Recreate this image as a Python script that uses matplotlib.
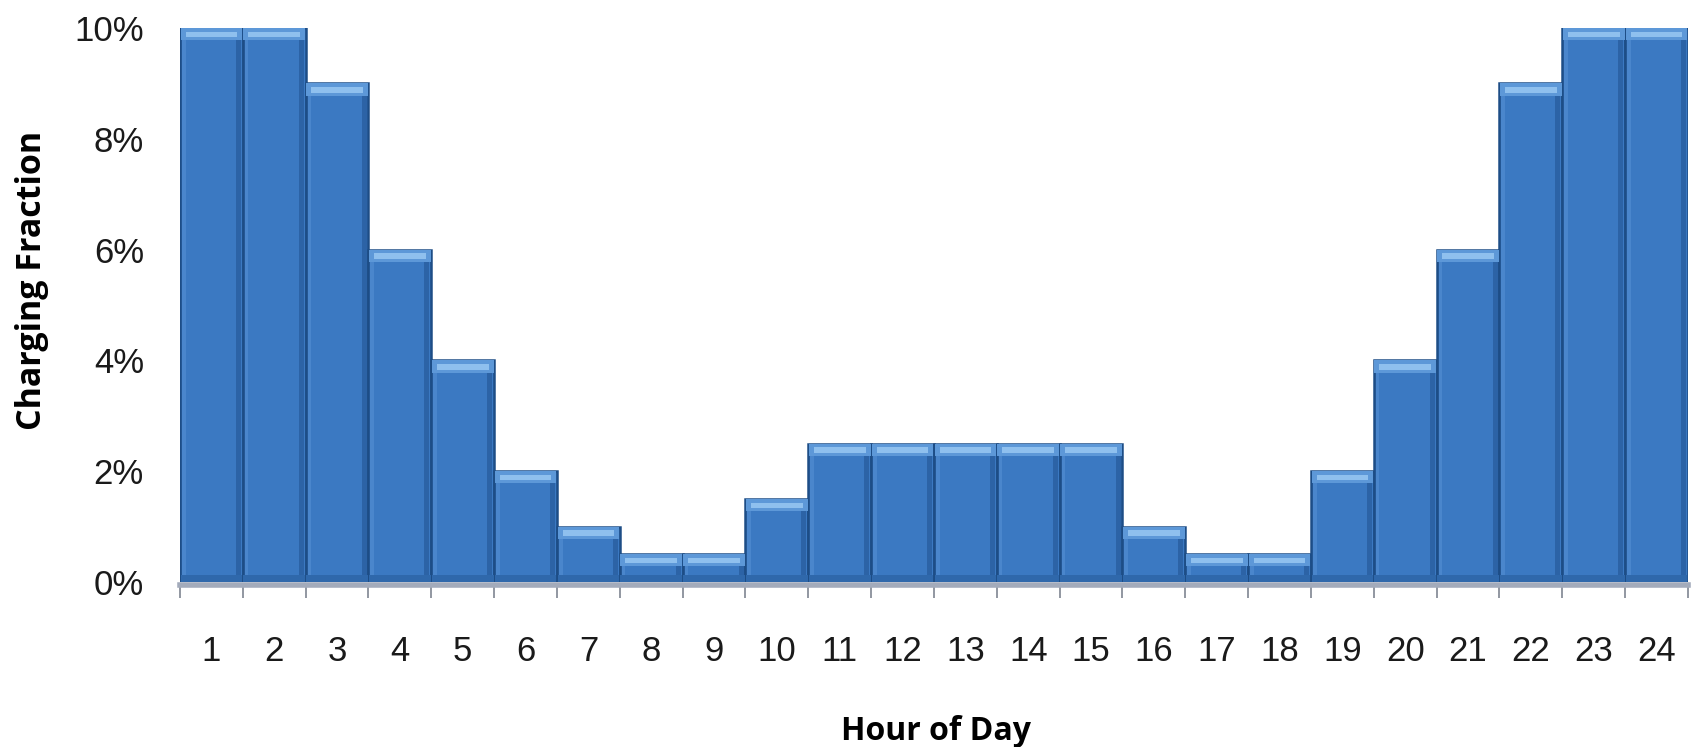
import matplotlib
matplotlib.use("Agg")
import matplotlib.pyplot as plt
import numpy as np
from matplotlib.ticker import FuncFormatter, FixedLocator

hours = list(range(1, 25))
charging_fraction = [0.10, 0.10, 0.09, 0.06, 0.04, 0.02, 0.01, 0.005, 0.005, 0.015,
                     0.025, 0.025, 0.025, 0.025, 0.025, 0.01, 0.005, 0.005, 0.02, 0.04,
                     0.06, 0.09, 0.10, 0.10]
y_ticks = [0.0, 0.02, 0.04, 0.06, 0.08, 0.10]

W, H = 1699, 747
fig = plt.figure(figsize=(W / 100, H / 100), dpi=100)
left, right = 180 / W, 1688 / W
bottom, top = 1 - 582 / H, 1 - 28 / H
ax = fig.add_axes([left, bottom, right - left, top - bottom])

x = np.arange(len(hours))
vals = np.array(charging_fraction)

# main body
ax.bar(x, vals, width=1.0, color="#3b79c2", edgecolor="#1d4d86", linewidth=1.8, zorder=2)
# lighter left face / darker right face
ax.bar(x - 0.44, vals - 0.0006, width=0.06, color="#4a86cc", linewidth=0, zorder=3)
ax.bar(x + 0.43, vals - 0.0006, width=0.08, color="#2c63a6", linewidth=0, zorder=3)
# top bevel
bev = 0.0022
ax.bar(x, np.full(len(vals), bev), bottom=vals - bev, width=0.98, color="#5d98d8",
       linewidth=0, zorder=4)
ax.bar(x, np.full(len(vals), bev * 0.45), bottom=vals - bev * 0.75, width=0.82,
       color="#8fc0ee", linewidth=0, zorder=5)
# bottom shade
ax.bar(x, np.full(len(vals), 0.0012), bottom=0.0, width=0.98, color="#2f68ab",
       linewidth=0, zorder=4)

ax.set_xlim(-0.5, len(hours) - 0.5)
ax.set_ylim(0, 0.10)

for s in ["top", "right", "left"]:
    ax.spines[s].set_visible(False)
ax.spines["bottom"].set_color("#a3abbb")
ax.spines["bottom"].set_linewidth(4)
ax.spines["bottom"].set_position(("outward", 2))

ax.yaxis.set_major_locator(FixedLocator(y_ticks))
ax.yaxis.set_major_formatter(FuncFormatter(lambda v, p: f"{v*100:.0f}%"))
ax.tick_params(axis="y", length=0, pad=26)

ax.set_xticks(x)
ax.set_xticklabels([str(h) for h in hours])
ax.set_xticks(np.arange(len(hours) + 1) - 0.5, minor=True)
ax.tick_params(axis="x", which="major", length=0, pad=36)
ax.tick_params(axis="x", which="minor", length=9, width=1.2, color="#7f8591", direction="out")

tick_font = ["Liberation Sans Narrow", "Liberation Sans", "DejaVu Sans"]
for lab in ax.get_xticklabels() + ax.get_yticklabels():
    lab.set_family(tick_font)
    lab.set_fontsize(25)
    lab.set_color("#1a1a1a")

label_font = ["Open Sans", "DejaVu Sans"]
fig.text(936 / W, 1 - 731 / H, "Hour of Day", ha="center", va="center",
         fontsize=23, fontweight="bold", family=label_font)
fig.text(32 / W, 1 - 280 / H, "Charging Fraction", ha="center", va="center",
         rotation=90, fontsize=24.5, fontweight="bold", family=label_font)

fig.savefig("out.png", dpi=100)
